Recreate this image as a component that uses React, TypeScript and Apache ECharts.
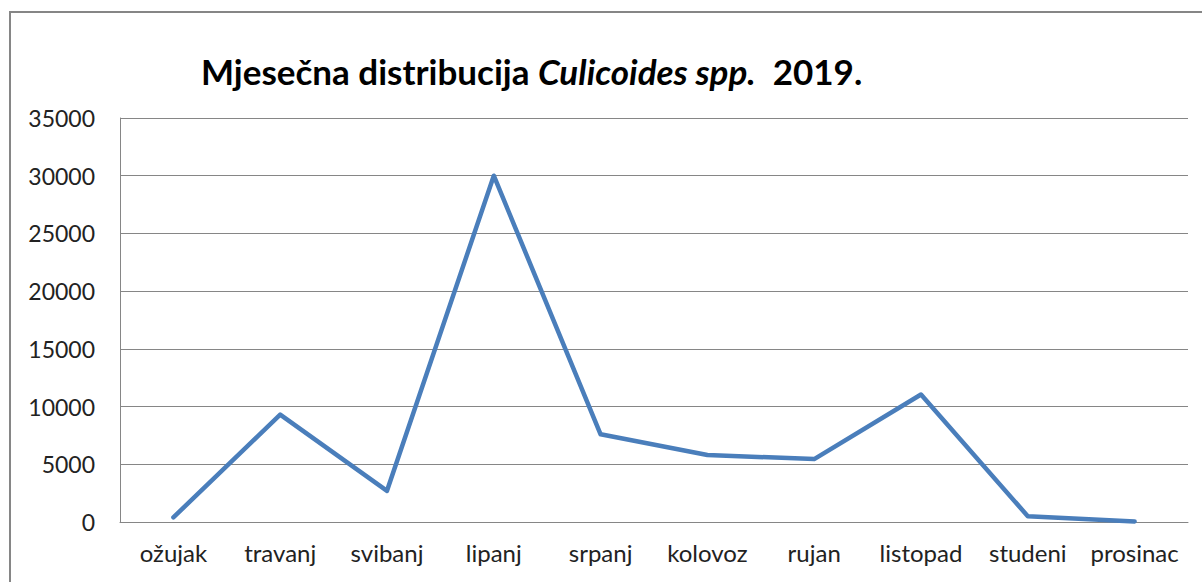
import React, { useEffect, useRef } from "react";
import * as echarts from "echarts";

const months = ["ožujak", "travanj", "svibanj", "lipanj", "srpanj", "kolovoz", "rujan", "listopad", "studeni", "prosinac"];
const counts = [400, 9300, 2700, 30000, 7600, 5800, 5450, 11050, 500, 50];
const titleMain = "Mjesečna distribucija ";
const titleItalic = "Culicoides spp.";
const titleYear = "  2019.";

export default function App() {
  const ref = useRef<HTMLDivElement>(null);
  useEffect(() => {
    const chart = echarts.init(ref.current!, null, { renderer: "svg" });
    const font = "Lato, 'Open Sans', sans-serif";
    chart.setOption({
      animation: false,
      backgroundColor: "#ffffff",
      title: {
        text: `{b|${titleMain}}{i|${titleItalic}}{b|${titleYear}}`,
        left: 196,
        top: 48,
        textStyle: {
          rich: {
            b: { fontFamily: font, fontWeight: "bold", fontSize: 35, color: "#000" },
            i: { fontFamily: font, fontWeight: "bold", fontStyle: "italic", fontSize: 35, color: "#000" },
          },
        },
      },
      graphic: [
        {
          type: "rect",
          shape: { x: 10, y: 12, width: 1400, height: 800 },
          style: { fill: "none", stroke: "#868686", lineWidth: 2 },
          silent: true,
        },
      ],
      grid: { left: 120, right: 14, top: 118, bottom: 60, containLabel: false },
      xAxis: {
        type: "category",
        data: months,
        boundaryGap: true,
        axisLine: { show: true, lineStyle: { color: "#868686", width: 1 } },
        axisTick: { show: false },
        axisLabel: { fontFamily: font, fontSize: 24, color: "#222", margin: 18, interval: 0 },
      },
      yAxis: {
        type: "value",
        min: 0,
        max: 35000,
        interval: 5000,
        axisLine: { show: true, lineStyle: { color: "#868686", width: 1 } },
        axisTick: { show: false },
        splitLine: { show: true, lineStyle: { color: "#868686", width: 1 } },
        axisLabel: { fontFamily: font, fontSize: 23, color: "#222", margin: 25, formatter: (v: number) => String(v) },
      },
      series: [
        {
          type: "line",
          data: counts,
          symbol: "none",
          lineStyle: { color: "#4a7ebb", width: 4.5, cap: "round", join: "round" },
        },
      ],
    });
    return () => chart.dispose();
  }, []);
  return <div ref={ref} style={{ position: "fixed", left: 0, top: 0, width: 1202, height: 582 }} />;
}
